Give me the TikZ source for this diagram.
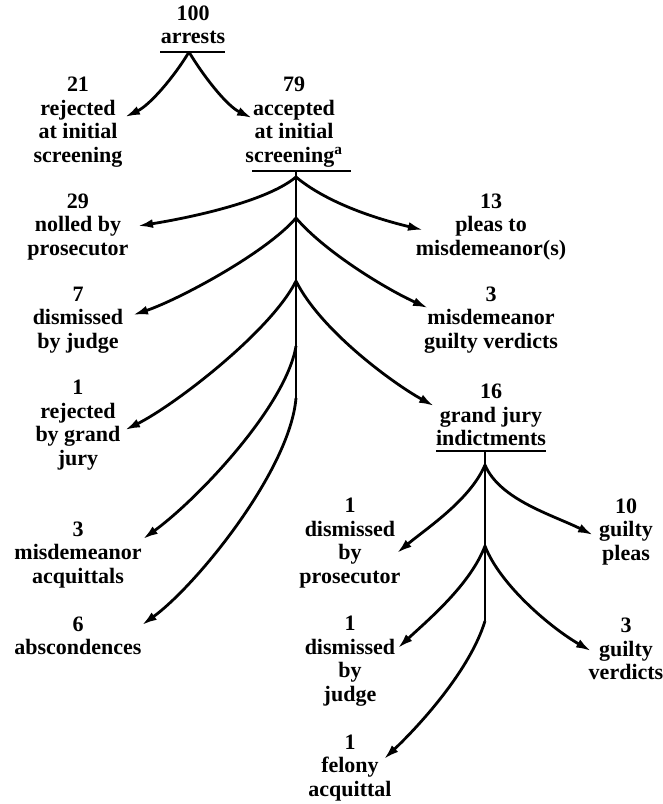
\documentclass[tikz,border=0pt]{standalone}
\usepackage{fontspec}
\setmainfont{Liberation Serif}
\usetikzlibrary{arrows.meta}
\tikzset{
  lbl/.style={align=center,inner sep=0pt,font=\bfseries\fontsize{22}{23.5}\selectfont},
  flow/.style={line width=2.8pt,-{Latex[length=15pt,width=9pt]}},
  stem/.style={line width=2.8pt}
}
\begin{document}
\begin{tikzpicture}[x=1pt,y=-1pt]
\useasboundingbox[fill=white] (0,0) rectangle (663,804);
\node[lbl] (arrests) at (193,25) {100\\arrests};
\node[lbl] (rejinit) at (78,122) {21\\rejected\\at initial\\screening};
\node[lbl] (accinit) at (294,122) {79\\accepted\\at initial\\screening\textsuperscript{a}};
\node[lbl] (nolled) at (78,227) {29\\nolled by\\prosecutor};
\node[lbl] (pleas) at (491,227) {13\\pleas to\\misdemeanor(s)};
\node[lbl] (dismjudge) at (78,320) {7\\dismissed\\by judge};
\node[lbl] (misdguilty) at (491,320) {3\\misdemeanor\\guilty verdicts};
\node[lbl] (rejgrand) at (78,425) {1\\rejected\\by grand\\jury};
\node[lbl] (indict) at (491,415) {16\\grand jury\\indictments};
\node[lbl] (misdacq) at (78,555) {3\\misdemeanor\\acquittals};
\node[lbl] (abscond) at (78,636) {6\\abscondences};
\node[lbl] (dismpros) at (350,543) {1\\dismissed\\by\\prosecutor};
\node[lbl] (gpleas) at (626,532) {10\\guilty\\pleas};
\node[lbl] (dismjud2) at (350,661) {1\\dismissed\\by\\judge};
\node[lbl] (gverd) at (626,649) {3\\guilty\\verdicts};
\node[lbl] (felony) at (350,768) {1\\felony\\acquittal};
\coordinate (a0) at (189,52);
\foreach \n/\y in {0/171,1/177,2/218,3/281,4/346,5/398}{\coordinate (b\n) at (296,\y);}
\foreach \n/\y in {0/451,1/465,2/546,3/621}{\coordinate (c\n) at (485,\y);}
\draw[line width=2.2pt] ([shift={(-33,27)}]arrests.center) -- ([shift={(32,27)}]arrests.center);
\draw[line width=2.2pt] ([shift={(-42,49)}]accinit.center) -- ([shift={(57,49)}]accinit.center);
\draw[line width=2.2pt] ([shift={(-55,36)}]indict.center) -- ([shift={(55,36)}]indict.center);
\draw[stem] (b0) -- (b5);
\draw[stem] (c0) -- (c3);
\draw[flow] (a0) .. controls +(-15,25) and +(25,-12) .. ([shift={(47,-5)}]rejinit.center);
\draw[flow] (a0) .. controls +(15,25) and +(-25,-12) .. ([shift={(-42,-4)}]accinit.center);
\draw[flow] (b1) .. controls +(-30,25) and +(50,-8) .. ([shift={(60,-1)}]nolled.center);
\draw[flow] (b1) .. controls +(30,25) and +(-50,-12) .. ([shift={(-68,3)}]pleas.center);
\draw[flow] (b2) .. controls +(-30,35) and +(45,-15) .. ([shift={(55,-5)}]dismjudge.center);
\draw[flow] (b2) .. controls +(30,35) and +(-40,-18) .. ([shift={(-63,-12)}]misdguilty.center);
\draw[flow] (b3) .. controls +(-25,50) and +(50,-25) .. ([shift={(47,5)}]rejgrand.center);
\draw[flow] (b3) .. controls +(25,50) and +(-40,-22) .. ([shift={(-57,-9)}]indict.center);
\draw[flow] (b4) .. controls +(-10,60) and +(55,-40) .. ([shift={(65,-16)}]misdacq.center);
\draw[flow] (b5) .. controls +(-6,72) and +(55,-40) .. ([shift={(64,-11)}]abscond.center);
\draw[flow] (c1) .. controls +(-15,35) and +(30,-25) .. ([shift={(47,10)}]dismpros.center);
\draw[flow] (c1) .. controls +(15,35) and +(-40,-20) .. ([shift={(-33,3)}]gpleas.center);
\draw[flow] (c2) .. controls +(-15,39) and +(30,-28) .. ([shift={(48,-13)}]dismjud2.center);
\draw[flow] (c2) .. controls +(15,39) and +(-40,-23) .. ([shift={(-35,2)}]gverd.center);
\draw[flow] (c3) .. controls +(-15,49) and +(36,-34) .. ([shift={(34,-9)}]felony.center);
\end{tikzpicture}
\end{document}
